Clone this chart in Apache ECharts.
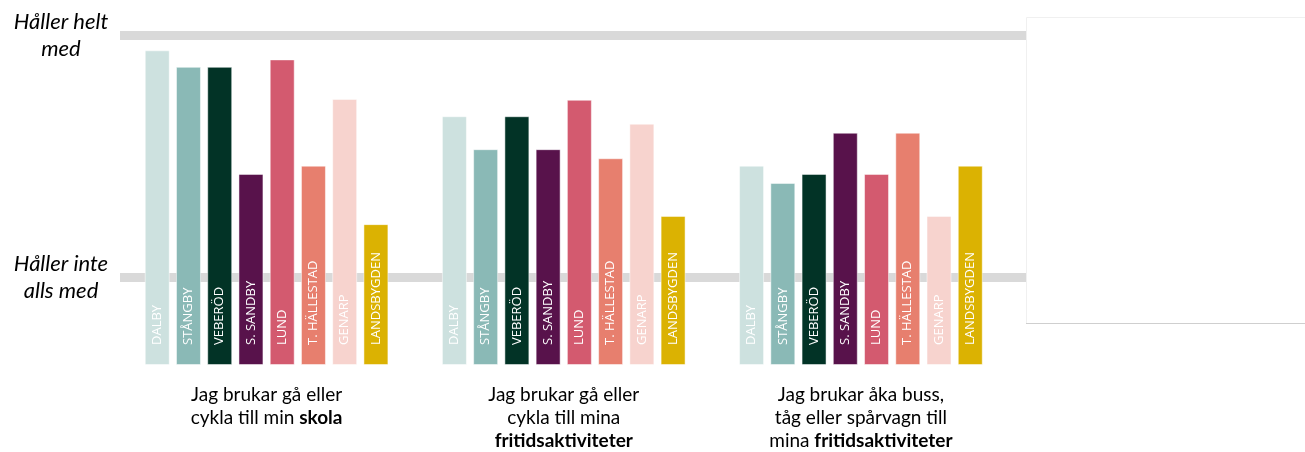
<!DOCTYPE html>
<html>
<head>
<meta charset="utf-8">
<script src="https://cdn.jsdelivr.net/npm/echarts@6/dist/echarts.min.js"></script>
<style>
html,body{margin:0;padding:0;background:#fff;}
#main{width:1305px;height:452px;}
</style>
</head>
<body>
<div id="main"></div>
<script>
// påståenden (x-axel)
var statements = [
    'Jag brukar gå eller\ncykla till min {b|skola}',
    'Jag brukar gå eller\ncykla till mina\n{b|fritidsaktiviteter}',
    'Jag brukar åka buss,\ntåg eller spårvagn till\nmina {b|fritidsaktiviteter}'
];
var regions = ['DALBY', 'STÅNGBY', 'VEBERÖD', 'S. SANDBY', 'LUND', 'T. HÄLLESTAD', 'GENARP', 'LANDSBYGDEN'];
var regionColors = ['#cde1df', '#8ab9b6', '#023326', '#58124b', '#d35a6f', '#e77f6e', '#f7d3ce', '#dbb202'];

// värden per område, ett per påstående
var dalby       = [3.82, 3.02, 2.42];
var stangby     = [3.62, 2.62, 2.21];
var veberod     = [3.62, 3.02, 2.32];
var sSandby     = [2.32, 2.62, 2.82];
var lund        = [3.71, 3.22, 2.32];
var tHallestad  = [2.42, 2.51, 2.82];
var genarp      = [3.23, 2.93, 1.81];
var landsbygden = [1.71, 1.81, 2.42];
var regionValues = [dalby, stangby, veberod, sSandby, lund, tHallestad, genarp, landsbygden];

// skalans ändpunkter
var scaleLabels = ['Håller inte\nalls med', 'Håller helt\nmed'];
var scaleValues = [1.062, 4];

var myChart = echarts.init(document.getElementById('main'));

var series = regions.map(function(name, i){
    return {
        name: name,
        type: 'bar',
        xAxisIndex: 0,
        yAxisIndex: 0,
        z: 3,
        barGap: '25%',
        barCategoryGap: '18%',
        data: regionValues[i],
        itemStyle: {
            color: regionColors[i],
            borderColor: 'rgba(255,255,255,0.5)',
            borderWidth: 1
        },
        label: {
            show: true,
            position: 'insideBottom',
            rotate: 90,
            align: 'left',
            verticalAlign: 'middle',
            distance: 20,
            formatter: name,
            color: '#fff',
            fontFamily: '"Open Sans", sans-serif',
            fontSize: 13
        }
    };
});

// grå referenslinjer (bakom staplarna)
series.push({
    type: 'line',
    xAxisIndex: 1,
    yAxisIndex: 1,
    z: 1,
    data: [],
    silent: true,
    markLine: {
        z: 1,
        silent: true,
        symbol: 'none',
        label: {show: false},
        lineStyle: {color: '#d9d9d9', width: 9, type: 'solid'},
        emphasis: {disabled: true},
        data: scaleValues.map(function(v){ return {yAxis: v}; })
    }
});

var option = {
    animation: false,
    grid: [
        {left: 118, right: 295.5, top: 35.5, bottom: 87},
        {left: 120, right: 279, top: 35.5, bottom: 87}
    ],
    xAxis: [
        {
            type: 'category',
            gridIndex: 0,
            data: statements,
            axisLine: {show: false},
            axisTick: {show: false},
            axisLabel: {
                interval: 0,
                margin: 18,
                color: '#000',
                fontFamily: 'Lato',
                fontSize: 19,
                lineHeight: 23,
                align: 'center',
                rich: {
                    b: {fontWeight: 'bold', fontFamily: 'Lato', fontSize: 19, lineHeight: 23, color: '#000'}
                }
            }
        },
        {
            type: 'value',
            gridIndex: 1,
            min: 0,
            max: 1,
            show: false
        }
    ],
    yAxis: [
        {
            type: 'value',
            gridIndex: 0,
            min: 0,
            max: 4,
            show: false
        },
        {
            type: 'value',
            gridIndex: 1,
            min: 0,
            max: 4,
            axisLine: {show: false},
            axisTick: {show: false},
            splitLine: {show: false},
            axisLabel: {
                customValues: scaleValues,
                formatter: function(v){
                    var i = scaleValues.indexOf(v);
                    return i >= 0 ? scaleLabels[i] : '';
                },
                align: 'center',
                margin: 59,
                color: '#000',
                fontFamily: 'Lato',
                fontStyle: 'italic',
                fontSize: 22,
                lineHeight: 27
            }
        }
    ],
    graphic: [
        {
            type: 'rect',
            left: 1026,
            top: 17,
            shape: {width: 290, height: 306},
            style: {fill: '#fff', stroke: '#f0f0f0', lineWidth: 1}
        },
        {
            type: 'line',
            shape: {x1: 1026, y1: 323.5, x2: 1305, y2: 323.5},
            style: {stroke: '#cfcfcf', lineWidth: 1}
        }
    ],
    series: series
};

myChart.setOption(option);
</script>
</body>
</html>
